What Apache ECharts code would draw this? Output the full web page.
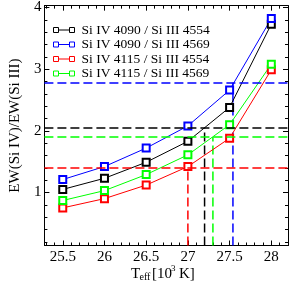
<!DOCTYPE html>
<html>
<head>
<meta charset="utf-8">
<script src="https://cdn.jsdelivr.net/npm/echarts@6/dist/echarts.min.js"></script>
<style>
html,body{margin:0;padding:0;background:#fff;}
#c{width:291px;height:282px;}
</style>
</head>
<body>
<div id="c"></div>
<script>
// ---- data ----
const teff = [25.5, 26, 26.5, 27, 27.5, 28];
const seriesNames = ['Si IV 4090 / Si III 4554', 'Si IV 4090 / Si III 4569', 'Si IV 4115 / Si III 4554', 'Si IV 4115 / Si III 4569'];
const ratio4090_4554 = [1.05, 1.23, 1.49, 1.83, 2.38, 3.73];
const ratio4090_4569 = [1.21, 1.42, 1.72, 2.08, 2.66, 3.82];
const ratio4115_4554 = [0.75, 0.90, 1.12, 1.42, 1.88, 2.99];
const ratio4115_4569 = [0.87, 1.03, 1.29, 1.61, 2.10, 3.08];
const observedRatio = [2.05, 2.78, 1.40, 1.90];
const derivedTeff = [27.2, 27.54, 27.0, 27.3];
const xTicks = [25.5, 26, 26.5, 27, 27.5, 28];
const yTicks = [1, 2, 3, 4];
const colors = ['#000000', '#0000ff', '#ff0000', '#00ff00'];

const xMin = 25.28, xMax = 28.2, yMin = 0.14, yMax = 4.03;
const FONT = 'Liberation Serif';

function range(a, b, step) {
  const out = [];
  for (let v = a; v <= b + 1e-9; v += step) out.push(Math.round(v * 100) / 100);
  return out;
}
const xMinor = range(25.3, 28.2, 0.1);
const yMinor = range(0.2, 4.0, 0.2);

const allSeries = [ratio4090_4554, ratio4090_4569, ratio4115_4554, ratio4115_4569];

function mkX(pos, ticks, len, showLine, showLabel) {
  return {
    type: 'value', min: xMin, max: xMax, position: pos,
    axisLine: {show: showLine, onZero: false, lineStyle: {color: '#000', width: 1}},
    axisTick: {show: true, inside: true, length: len, customValues: ticks, lineStyle: {color: '#000', width: 1}},
    axisLabel: {show: showLabel, customValues: ticks, margin: 4, color: '#000', fontFamily: FONT, fontSize: 15},
    splitLine: {show: false}
  };
}
function mkY(pos, ticks, len, showLine, showLabel, extra) {
  return Object.assign({
    type: 'value', min: yMin, max: yMax, position: pos,
    axisLine: {show: showLine, onZero: false, lineStyle: {color: '#000', width: 1}},
    axisTick: {show: true, inside: true, length: len, customValues: ticks, lineStyle: {color: '#000', width: 1}},
    axisLabel: {show: showLabel, customValues: ticks, margin: 3, color: '#000', fontFamily: FONT, fontSize: 15},
    splitLine: {show: false}
  }, extra || {});
}

const series = [];
// dashed reference lines
for (let i = 0; i < 4; i++) {
  series.push({
    type: 'line', name: 'ref' + i, z: 1,
    data: [[derivedTeff[i], yMin], [derivedTeff[i], observedRatio[i]]],
    symbol: 'none', silent: true,
    lineStyle: {color: colors[i], width: 1.5, type: [9, 4]},
    markLine: {
      silent: true, symbol: 'none', label: {show: false},
      lineStyle: {color: colors[i], width: 1.5, type: [9, 4]},
      data: [{yAxis: observedRatio[i]}]
    }
  });
}
for (let i = 0; i < 4; i++) {
  series.push({
    type: 'line', name: seriesNames[i], z: 3,
    data: teff.map((t, k) => [t, allSeries[i][k]]),
    symbol: 'emptyRect', symbolSize: 7,
    lineStyle: {color: colors[i], width: 1},
    itemStyle: {color: colors[i], borderWidth: 1}
  });
}

const chart = echarts.init(document.getElementById('c'), null, {renderer: 'canvas'});
chart.setOption({
  animation: false,
  backgroundColor: '#fff',
  grid: {left: 27, right: 3, top: 4, bottom: 36.5},
  xAxis: [
    mkX('bottom', xTicks, 5, true, true),
    mkX('bottom', xMinor, 3, false, false),
    mkX('top', xTicks, 5, true, false),
    mkX('top', xMinor, 3, false, false)
  ],
  yAxis: [
    mkY('left', yTicks, 5, true, true, {
      name: 'EW(Si IV)/EW(Si III)', nameLocation: 'middle', nameGap: 11, nameRotate: 90,
      nameTextStyle: {color: '#000', fontFamily: FONT, fontSize: 15}
    }),
    mkY('left', yMinor, 3, false, false),
    mkY('right', yTicks, 5, true, false),
    mkY('right', yMinor, 3, false, false)
  ],
  legend: {
    left: 46, top: 18, orient: 'vertical',
    itemWidth: 21, itemHeight: 5.5, itemGap: 0.5,
    textStyle: {color: '#000', fontFamily: FONT, fontSize: 13.5, lineHeight: 13.5, padding: [0, 0, 0, 2]},
    data: seriesNames.map((n, i) => ({
      name: n,
      icon: 'path://M0,0 L5,0 L5,5 L0,5 Z M5,2.5 L16,2.5 M16,0 L21,0 L21,5 L16,5 Z',
      itemStyle: {color: 'none', borderColor: colors[i], borderWidth: 1}
    }))
  },
  graphic: [
    {type: 'text', left: 131, top: 267, style: {text: 'T', font: '15px "Liberation Serif"', fill: '#000'}},
    {type: 'text', left: 139.5, top: 272, style: {text: 'eff', font: '10px "Liberation Serif"', fill: '#000'}},
    {type: 'text', left: 152, top: 267, style: {text: '[10', font: '15px "Liberation Serif"', fill: '#000'}},
    {type: 'text', left: 171, top: 264, style: {text: '3', font: '9px "Liberation Serif"', fill: '#000'}},
    {type: 'text', left: 179, top: 267, style: {text: 'K]', font: '15px "Liberation Serif"', fill: '#000'}}
  ],
  series: series
});
</script>
</body>
</html>
